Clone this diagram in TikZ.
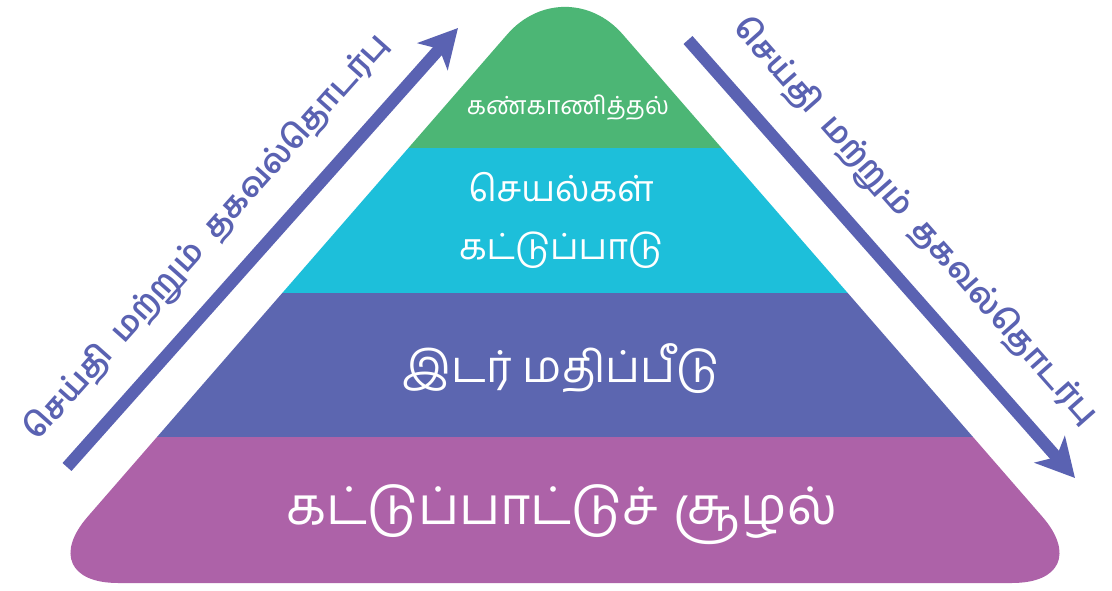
\documentclass[tikz,border=0pt]{standalone}
\usepackage{fontspec}
\newfontfamily\tamil[Script=Tamil]{Hind Madurai}
\usetikzlibrary{arrows.meta}
\definecolor{cgreen}{HTML}{4CB675}
\definecolor{ccyan}{HTML}{1DBFDA}
\definecolor{cblue}{HTML}{5C66B0}
\definecolor{cpurple}{HTML}{AD62A8}
\definecolor{carrow}{HTML}{5A62B2}
\begin{document}
\begin{tikzpicture}[x=1pt,y=-1pt,
  layertext/.style={text=white,font=\tamil,align=center,inner sep=0pt},
  flowarrow/.style={draw=carrow,line width=12pt,-{Stealth[length=38pt,width=40pt,inset=10pt]}},
  flowtext/.style={text=carrow,font=\tamil\bfseries\fontsize{32}{40}\selectfont,sloped,inner sep=0pt}]
\useasboundingbox[fill=white] (0,0) rectangle (1112,591);
\begin{scope}
  \clip[rounded corners=88pt] (30,583) -- (565,-32) -- (1100,583) -- cycle;
  \fill[cgreen] (0,-40) rectangle (1112,148);
  \fill[ccyan] (0,148) rectangle (1112,293);
  \fill[cblue] (0,293) rectangle (1112,437);
  \fill[cpurple] (0,437) rectangle (1112,600);
\end{scope}
\node[layertext,font=\tamil\fontsize{25}{30}\selectfont] (l1) at (568,108) {கண்காணித்தல்};
\node[layertext,font=\tamil\fontsize{36}{58}\selectfont] (l2) at (561,220) {செயல்கள்\\கட்டுப்பாடு};
\node[layertext,font=\tamil\fontsize{44}{56}\selectfont] (l3) at (561,369) {இடர்\hspace{0.25em}மதிப்பீடு};
\node[layertext,font=\tamil\fontsize{52}{60}\selectfont] (l4) at (562,515) {கட்டுப்பாட்டுச்\hspace{0.3em}சூழல்};
\coordinate (la) at (67,467);
\coordinate (lb) at (458,28);
\coordinate (ra) at (688,40);
\coordinate (rb) at (1075,478);
\draw[flowarrow] (la) -- node[flowtext,pos=0.45,above=22pt] (lt) {செய்தி\hspace{0.5em}மற்றும்\hspace{0.5em}தகவல்தொடர்பு} (lb);
\draw[flowarrow] (ra) -- node[flowtext,pos=0.49,above=24pt] (rt) {செய்தி\hspace{0.5em}மற்றும்\hspace{0.5em}தகவல்தொடர்பு} (rb);
\end{tikzpicture}
\end{document}
